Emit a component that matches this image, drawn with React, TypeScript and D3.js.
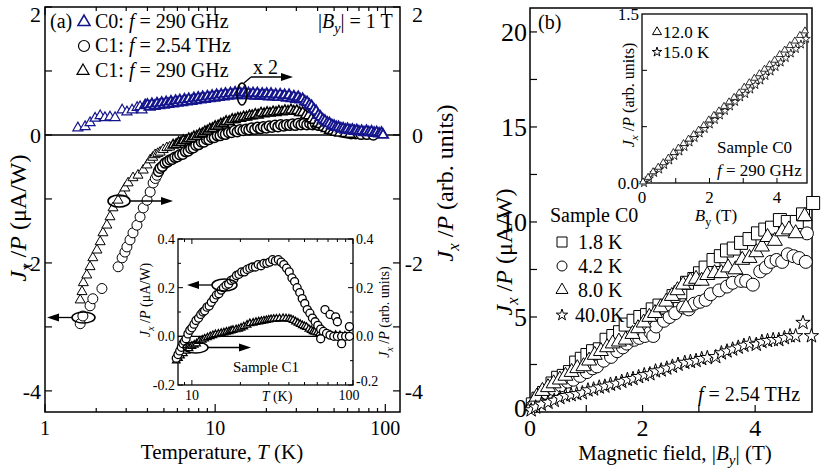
import React from "react";
import * as d3 from "d3";

const FONT = "'Liberation Serif', 'Times New Roman', Times, serif";
const BLUE = "#14148c";

// ---------- panel (a): Jx/P vs temperature ----------
// C0, f = 290 GHz (right axis, x2)
const c0At290GHz: [number, number][] = [
  [1.56, 0.11], [1.72, 0.13], [1.84, 0.19], [1.97, 0.26], [2.11, 0.3], [2.25, 0.27], [2.41, 0.28],
  [2.58, 0.27], [2.84, 0.39], [3.03, 0.36], [3.25, 0.39], [3.48, 0.43], [3.62, 0.44], [3.72, 0.39],
  [3.88, 0.46], [4.0, 0.47], [4.12, 0.44], [4.25, 0.48], [4.4, 0.45], [4.55, 0.49], [4.7, 0.46],
  [4.85, 0.5], [5.0, 0.47], [5.15, 0.51], [5.3, 0.48], [5.5, 0.52], [5.65, 0.49], [5.85, 0.53],
  [6.0, 0.5], [6.2, 0.54], [6.4, 0.51], [6.6, 0.55], [6.8, 0.52], [7.0, 0.56], [7.25, 0.53],
  [7.5, 0.57], [7.7, 0.54], [7.95, 0.58], [8.2, 0.55], [8.45, 0.59], [8.7, 0.56], [9.0, 0.6],
  [9.3, 0.57], [9.6, 0.61], [9.9, 0.58], [10.2, 0.62], [10.5, 0.59], [10.85, 0.63], [11.2, 0.6],
  [11.5, 0.64], [11.9, 0.61], [12.3, 0.65], [12.7, 0.62], [13.1, 0.66], [13.5, 0.62], [13.9, 0.66],
  [14.3, 0.63], [14.8, 0.66], [15.2, 0.62], [15.7, 0.65], [16.2, 0.62], [16.7, 0.65], [17.2, 0.61],
  [17.7, 0.65], [18.3, 0.61], [18.9, 0.64], [19.5, 0.61], [20.1, 0.64], [20.7, 0.6], [21.3, 0.64],
  [22.0, 0.6], [22.7, 0.63], [23.4, 0.59], [24.1, 0.63], [24.9, 0.59], [25.6, 0.62], [26.4, 0.58],
  [27.2, 0.62], [28.1, 0.57], [29.0, 0.6], [29.9, 0.56], [30.8, 0.59], [31.7, 0.55], [32.7, 0.56],
  [33.7, 0.52], [34.7, 0.51], [35.8, 0.47], [36.9, 0.45], [38.0, 0.4], [39.2, 0.37], [40.4, 0.31],
  [41.6, 0.28], [42.9, 0.24], [44.2, 0.22], [45.6, 0.19], [47.0, 0.18], [48.5, 0.15], [50.0, 0.14],
  [51.5, 0.12], [53.1, 0.12], [54.8, 0.1], [56.5, 0.1], [58.2, 0.08], [60.0, 0.09], [62.0, 0.07],
  [64.0, 0.08], [66.0, 0.06], [68.0, 0.07], [70.0, 0.05], [72.5, 0.06], [75.0, 0.04], [77.5, 0.06],
  [80.0, 0.04], [83.0, 0.05], [86.0, 0.03], [89.0, 0.04], [92.0, 0.02], [95.0, 0.03], [97.0, 0.0],
];
// C1, f = 2.54 THz (left axis)
const c1At254THz: [number, number][] = [
  [1.61, -2.95], [1.67, -2.83], [1.84, -2.67], [1.91, -2.56], [2.16, -2.4],
  [2.69, -2.06], [2.84, -1.92], [2.95, -1.83], [3.03, -1.75], [3.16, -1.64], [3.29, -1.53],
  [3.47, -1.41], [3.62, -1.28], [3.78, -1.14], [3.98, -1.02], [4.15, -0.89], [4.32, -0.75],
  [4.45, -0.68], [4.55, -0.63], [4.65, -0.57], [4.75, -0.52], [4.9, -0.49], [5.08, -0.44],
  [5.25, -0.42], [5.43, -0.39], [5.6, -0.38], [5.8, -0.35], [6.0, -0.34], [6.2, -0.31], [6.45, -0.3],
  [6.7, -0.26], [6.95, -0.25], [7.2, -0.21], [7.45, -0.2], [7.7, -0.16], [8.0, -0.15], [8.3, -0.11],
  [8.6, -0.11], [8.9, -0.07], [9.2, -0.07], [9.55, -0.04], [9.9, -0.04], [10.3, -0.01], [10.7, -0.01],
  [11.1, 0.02], [11.5, 0.01], [12.0, 0.04], [12.5, 0.04], [13.0, 0.07], [13.5, 0.05], [14.0, 0.08],
  [14.6, 0.07], [15.2, 0.09], [15.8, 0.08], [16.4, 0.11], [17.1, 0.09], [17.8, 0.12], [18.5, 0.1],
  [19.2, 0.13], [20.0, 0.11], [20.8, 0.14], [21.6, 0.12], [22.5, 0.15], [23.4, 0.13], [24.3, 0.16],
  [25.3, 0.14], [26.3, 0.16], [27.4, 0.15], [28.5, 0.17], [29.6, 0.15], [30.8, 0.18], [32.0, 0.16],
  [33.3, 0.18], [34.6, 0.16], [36.0, 0.18], [37.4, 0.16], [38.9, 0.17], [40.5, 0.15], [42.1, 0.17],
  [43.8, 0.14], [45.5, 0.15], [47.3, 0.12], [49.2, 0.11], [51.2, 0.08], [53.2, 0.07], [55.3, 0.05],
  [57.5, 0.04], [60.0, 0.03], [63.0, 0.02], [67.0, 0.02], [72.0, 0.01], [78.0, 0.01], [85.0, 0.0],
];
// C1, f = 290 GHz (right axis)
const c1At290GHz: [number, number][] = [
  [1.61, -2.58], [1.65, -2.45], [1.68, -2.31], [1.76, -2.19], [1.84, -2.06], [1.91, -1.92],
  [2.02, -1.8], [2.11, -1.67], [2.19, -1.53], [2.31, -1.41], [2.41, -1.28], [2.51, -1.14],
  [2.69, -1.02], [2.84, -0.91], [2.95, -0.83], [3.08, -0.75], [3.29, -0.67], [3.52, -0.63],
  [3.78, -0.55], [3.98, -0.47], [4.15, -0.39], [4.3, -0.35], [4.44, -0.31], [4.6, -0.29],
  [4.75, -0.27], [4.95, -0.23], [5.2, -0.2], [5.4, -0.19], [5.66, -0.16], [5.9, -0.15], [6.1, -0.12],
  [6.3, -0.12], [6.5, -0.09], [6.75, -0.09], [7.0, -0.06], [7.25, -0.06], [7.5, -0.03], [7.8, -0.02],
  [8.1, 0.01], [8.4, 0.02], [8.7, 0.05], [9.0, 0.06], [9.3, 0.09], [9.65, 0.1], [10.0, 0.13],
  [10.4, 0.14], [10.8, 0.17], [11.2, 0.18], [11.6, 0.21], [12.1, 0.21], [12.6, 0.24], [13.1, 0.24],
  [13.6, 0.26], [14.1, 0.26], [14.7, 0.28], [15.3, 0.28], [15.9, 0.3], [16.5, 0.3], [17.2, 0.32],
  [17.9, 0.31], [18.6, 0.34], [19.4, 0.33], [20.2, 0.35], [21.0, 0.34], [21.9, 0.36], [22.8, 0.35],
  [23.7, 0.37], [24.7, 0.36], [25.7, 0.38], [26.8, 0.37], [27.9, 0.39], [29.0, 0.37], [30.2, 0.38],
  [31.4, 0.35], [32.7, 0.35], [34.0, 0.31], [35.4, 0.3], [36.8, 0.25], [38.3, 0.23], [39.9, 0.18],
  [41.5, 0.16], [43.2, 0.12], [45.0, 0.1], [47.0, 0.07], [49.0, 0.06], [51.0, 0.04], [54.0, 0.03],
  [58.0, 0.02], [62.0, 0.01],
];
// inset (a): sample C1
const insetC1Circles: [number, number][] = [
  [8.0, -0.09], [8.2, -0.075], [8.4, -0.06], [8.6, -0.045], [8.8, -0.03], [9.0, -0.02], [9.2, -0.01],
  [9.45, 0.01], [9.7, 0.025], [10.0, 0.035], [10.3, 0.05], [10.6, 0.065], [11.0, 0.075], [11.35, 0.09],
  [11.7, 0.1], [12.0, 0.105], [12.4, 0.12], [12.8, 0.125], [13.2, 0.14], [13.7, 0.155], [14.2, 0.17],
  [14.7, 0.175], [15.2, 0.19], [15.7, 0.2], [16.3, 0.21], [16.9, 0.215], [17.5, 0.23], [18.2, 0.235],
  [18.9, 0.25], [19.6, 0.255], [20.4, 0.265], [21.2, 0.265], [22.0, 0.275], [22.9, 0.28], [23.8, 0.285],
  [24.8, 0.285], [25.8, 0.295], [26.9, 0.29], [28.0, 0.3], [29.2, 0.3], [30.4, 0.305], [31.7, 0.315],
  [33.0, 0.31], [34.4, 0.315], [35.8, 0.305], [37.2, 0.295], [38.7, 0.28], [40.2, 0.265], [41.8, 0.24],
  [43.4, 0.225], [45.0, 0.2], [46.7, 0.18], [48.4, 0.155], [50.2, 0.135], [52.0, 0.11], [54.0, 0.095],
  [56.0, 0.075], [58.2, 0.06], [60.5, 0.045], [63.0, 0.03], [65.5, 0.02], [68.5, 0.012], [72.0, 0.005],
  [76.0, 0.0], [80.0, 0.0], [85.0, 0.0], [90.0, 0.0], [95.0, 0.0],
  [63.0, -0.01], [67.0, 0.11], [72.0, 0.09], [78.0, 0.08], [80.0, 0.06], [85.0, -0.03], [95.0, 0.04],
];
const insetC1Triangles: [number, number][] = [
  [8.0, -0.1], [8.25, -0.09], [8.5, -0.08], [8.85, -0.07], [9.2, -0.06], [9.6, -0.05], [10.0, -0.04],
  [10.35, -0.035], [10.7, -0.03], [11.1, -0.02], [11.6, -0.015], [12.0, -0.01], [12.5, -0.005],
  [13.0, 0.0], [13.5, 0.004], [14.0, 0.008], [14.6, 0.01], [15.2, 0.013], [15.8, 0.015], [16.4, 0.018],
  [17.0, 0.02], [17.5, 0.023], [18.0, 0.025], [18.8, 0.028], [19.5, 0.03], [20.2, 0.035], [21.0, 0.04],
  [22.0, 0.047], [22.9, 0.053], [24.0, 0.055], [25.0, 0.058], [26.0, 0.06], [27.0, 0.062], [28.0, 0.064],
  [29.0, 0.066], [30.0, 0.068], [31.0, 0.07], [32.2, 0.071], [33.5, 0.072], [35.0, 0.073], [36.8, 0.074],
  [38.4, 0.073], [40.0, 0.072], [41.2, 0.07], [42.5, 0.066], [44.0, 0.06], [45.5, 0.055], [47.0, 0.05],
  [48.5, 0.045], [50.0, 0.041], [51.5, 0.038], [53.2, 0.03], [55.0, 0.025], [56.5, 0.02], [58.0, 0.018],
  [60.0, 0.015], [62.0, 0.012], [64.5, 0.01], [67.0, 0.008], [72.0, 0.006], [78.0, 0.005], [83.0, 0.004],
  [89.0, 0.002], [95.0, 0.0],
];

// ---------- panel (b): Jx/P vs magnetic field, sample C0, 2.54 THz ----------
const field1p8K: [number, number][] = [
  [0.05, 0.4], [0.15, 0.7], [0.25, 1.0], [0.4, 1.5], [0.5, 1.8], [0.6, 1.9], [0.71, 2.1], [0.82, 2.6],
  [0.92, 2.8], [1.02, 3.0], [1.12, 3.2], [1.24, 3.3], [1.36, 3.8], [1.48, 4.0], [1.6, 4.2], [1.7, 4.6],
  [1.84, 4.8], [1.96, 5.0], [2.08, 5.1], [2.18, 5.4], [2.3, 5.6], [2.43, 5.5], [2.55, 6.1], [2.67, 6.3],
  [2.79, 6.8], [2.92, 7.0], [3.02, 7.3], [3.12, 7.6], [3.26, 8.0], [3.39, 8.2], [3.5, 8.5], [3.62, 8.6],
  [3.75, 8.9], [3.9, 9.1], [4.05, 9.4], [4.18, 9.6], [4.3, 9.7], [4.44, 10.1], [4.58, 10.0], [4.74, 10.0],
  [4.85, 10.4], [5.03, 11.0],
];
const field4p2K: [number, number][] = [
  [0.05, 0.3], [0.15, 0.6], [0.3, 1.0], [0.43, 1.2], [0.55, 1.4], [0.67, 1.6], [0.77, 1.7], [0.89, 1.9],
  [1.01, 2.1], [1.11, 2.3], [1.19, 2.4], [1.31, 2.7], [1.44, 2.9], [1.55, 3.2], [1.65, 3.4], [1.72, 3.6],
  [1.85, 3.8], [1.94, 3.9], [2.04, 4.0], [2.14, 4.2], [2.19, 4.0], [2.24, 4.5], [2.38, 4.8], [2.48, 5.0],
  [2.58, 5.2], [2.72, 5.5], [2.82, 5.4], [2.92, 5.7], [3.02, 5.8], [3.12, 5.9], [3.21, 6.2], [3.36, 6.4],
  [3.5, 6.6], [3.6, 6.8], [3.75, 6.9], [3.84, 6.9], [3.96, 6.7], [4.09, 7.4], [4.19, 7.6], [4.28, 7.9],
  [4.38, 8.0], [4.48, 7.9], [4.58, 8.3], [4.68, 8.2], [4.78, 8.1], [4.9, 7.9], [4.92, 9.4],
];
const field8p0K: [number, number][] = [
  [0.05, 0.4], [0.12, 0.8], [0.22, 1.1], [0.32, 1.3], [0.42, 1.5], [0.53, 1.7], [0.63, 1.9], [0.74, 2.1],
  [0.84, 2.3], [0.95, 2.4], [1.05, 2.7], [1.15, 3.0], [1.26, 3.2], [1.37, 3.4], [1.47, 3.6], [1.58, 3.7],
  [1.7, 3.8], [1.82, 4.1], [1.92, 4.4], [2.02, 4.7], [2.12, 5.0], [2.22, 5.2], [2.32, 5.5], [2.42, 5.8],
  [2.52, 6.1], [2.62, 6.4], [2.72, 6.7], [2.77, 5.5], [2.85, 6.9], [2.95, 7.0], [3.05, 6.9], [3.15, 7.2],
  [3.28, 7.3], [3.4, 7.3], [3.52, 7.6], [3.65, 7.5], [3.77, 8.0], [3.9, 8.1], [4.02, 8.4], [4.12, 8.7],
  [4.22, 9.2], [4.35, 9.0], [4.48, 9.5], [4.6, 9.6], [4.72, 9.4], [4.88, 10.3],
];
const field40K: [number, number][] = [
  [0.02, 0.1], [0.1, 0.25], [0.2, 0.4], [0.32, 0.5], [0.43, 0.6], [0.53, 0.75], [0.63, 0.85], [0.73, 0.9],
  [0.83, 0.95], [0.93, 1.0], [1.03, 1.15], [1.13, 1.2], [1.23, 1.3], [1.33, 1.35], [1.43, 1.45], [1.53, 1.5],
  [1.63, 1.6], [1.73, 1.7], [1.83, 1.75], [1.93, 1.85], [2.03, 1.95], [2.13, 2.0], [2.23, 2.15], [2.33, 2.2],
  [2.43, 2.3], [2.53, 2.4], [2.63, 2.5], [2.75, 2.6], [2.85, 2.65], [2.95, 2.7], [3.05, 2.8], [3.15, 2.85],
  [3.3, 2.9], [3.4, 3.1], [3.5, 3.2], [3.6, 3.3], [3.7, 3.4], [3.8, 3.5], [3.9, 3.6], [4.02, 3.55],
  [4.12, 3.7], [4.22, 3.75], [4.32, 3.8], [4.42, 3.8], [4.52, 3.9], [4.62, 4.0], [4.72, 4.0], [4.85, 4.7],
  [5.0, 4.0],
];
// inset (b): sample C0, 290 GHz
const inset12K: [number, number][] = [
  [0.03, 0.01], [0.18, 0.05], [0.33, 0.1], [0.48, 0.14], [0.63, 0.18], [0.78, 0.22], [0.93, 0.27],
  [1.08, 0.31], [1.23, 0.35], [1.38, 0.39], [1.53, 0.43], [1.68, 0.47], [1.83, 0.51], [1.98, 0.56],
  [2.13, 0.6], [2.28, 0.64], [2.43, 0.68], [2.58, 0.72], [2.73, 0.76], [2.88, 0.8], [3.03, 0.85],
  [3.18, 0.89], [3.33, 0.93], [3.48, 0.97], [3.63, 1.01], [3.78, 1.05], [3.93, 1.09], [4.08, 1.14],
  [4.23, 1.18], [4.38, 1.22], [4.53, 1.26], [4.68, 1.31], [4.83, 1.35],
];
const inset15K: [number, number][] = [
  [0.06, 0.0], [0.21, 0.04], [0.36, 0.09], [0.51, 0.12], [0.66, 0.16], [0.81, 0.2], [0.96, 0.24],
  [1.11, 0.28], [1.26, 0.32], [1.41, 0.36], [1.56, 0.4], [1.71, 0.44], [1.86, 0.48], [2.01, 0.52],
  [2.16, 0.56], [2.31, 0.6], [2.46, 0.64], [2.61, 0.68], [2.76, 0.72], [2.91, 0.76], [3.06, 0.79],
  [3.21, 0.83], [3.36, 0.87], [3.51, 0.91], [3.66, 0.95], [3.81, 0.99], [3.96, 1.03], [4.11, 1.07],
  [4.26, 1.11], [4.41, 1.15], [4.56, 1.19], [4.71, 1.23], [4.86, 1.28],
];

// tick labels
const aYLabels = [2, 0, -2, -4];
const aXLabels = [1, 10, 100];
const aInsetYLabels = ["0.4", "0.2", "0.0", "-0.2"];
const bYLabels = [0, 5, 10, 15, 20];
const bXLabels = [0, 2, 4];
const bInsetXLabels = [0, 2, 4];
const bInsetYLabels = ["0.0", "1.5"];

const sym = (type: d3.SymbolType, size: number) => d3.symbol().type(type).size(size)() || "";
const triArea = (s: number) => (Math.sqrt(3) / 4) * s * s;
const starSize = (r: number) => (r * r) / 0.8908130915292852;

type XY = [number, number];
function Marks({ data, sx, sy, d, stroke = "#000", sw = 1 }: any) {
  return (
    <g>
      {(data as XY[]).map(([a, b], i) => (
        <path key={i} d={d} transform={`translate(${sx(a)},${sy(b)})`} fill="#fff" stroke={stroke}
          strokeWidth={typeof sw === "function" ? sw(a) : sw} />
      ))}
    </g>
  );
}

function Arrow({ x1, y, x2 }: { x1: number; y: number; x2: number }) {
  const dir = x2 > x1 ? 1 : -1;
  return (
    <g>
      <line x1={x1} y1={y} x2={x2 - dir * 6} y2={y} stroke="#000" strokeWidth={1.3} />
      <polygon points={`${x2},${y} ${x2 - dir * 12},${y - 4} ${x2 - dir * 12},${y + 4}`} fill="#000" />
    </g>
  );
}

function JxP({ fs, unit }: { fs: number; unit: string }) {
  return (
    <>
      <tspan fontStyle="italic">J</tspan>
      <tspan fontStyle="italic" fontSize={fs * 0.7} dy={fs * 0.25}>x</tspan>
      <tspan dy={-fs * 0.25}> /</tspan>
      <tspan fontStyle="italic">P</tspan>
      <tspan>{` (${unit})`}</tspan>
    </>
  );
}

const fmt = (v: number) => (v < 0 ? `-${-v}` : `${v}`);

export default function App() {
  // panel (a)
  const ax = d3.scaleLog().domain([1, 122]).range([45, 400]);
  const ay = d3.scaleLinear().domain([-4.33, 2]).range([412, 7]);
  const ix = d3.scaleLog().domain([8.2, 100]).range([178, 353]);
  const iy = d3.scaleLinear().domain([-0.2, 0.4]).range([385, 239]);
  // panel (b)
  const bx = d3.scaleLinear().domain([0, 5.01]).range([530, 812]);
  const by = d3.scaleLinear().domain([0, 21.26]).range([412, 8]);
  const jx = d3.scaleLinear().domain([0, 4.89]).range([642, 807]);
  const jy = d3.scaleLinear().domain([0, 1.5]).range([183, 14]);

  const triA = sym(d3.symbolTriangle, triArea(10));
  const circA = sym(d3.symbolCircle, Math.PI * 25);
  const triI = sym(d3.symbolTriangle, triArea(7.5));
  const circI = sym(d3.symbolCircle, Math.PI * 16);
  const sqB = sym(d3.symbolSquare, 13 * 13);
  const circB = sym(d3.symbolCircle, Math.PI * 6.5 * 6.5);
  const triB = sym(d3.symbolTriangle, triArea(15));
  const starB = sym(d3.symbolStar, starSize(7.5));
  const triJ = sym(d3.symbolTriangle, triArea(7));
  const starJ = sym(d3.symbolStar, starSize(4.5));

  const aYTicks = d3.range(-4, 2.5, 1);
  const aInYTicks = d3.range(-0.2, 0.45, 0.1);
  const bYTicks = d3.range(0, 21, 2.5);

  return (
    <svg width={822} height={470} style={{ position: "absolute", left: 0, top: 0, background: "#fff", fontFamily: FONT }}>
      {/* ================= panel (a) ================= */}
      <rect x={45} y={7} width={355} height={405} fill="none" stroke="#000" strokeWidth={1.5} />
      <line x1={45} x2={400} y1={ay(0)} y2={ay(0)} stroke="#000" strokeWidth={1.5} />
      {aYTicks.map((v) => (
        <g key={v}>
          <line x1={45} x2={52} y1={ay(v)} y2={ay(v)} stroke="#000" strokeWidth={1.2} />
          <line x1={400} x2={393} y1={ay(v)} y2={ay(v)} stroke="#000" strokeWidth={1.2} />
        </g>
      ))}
      {ax.ticks().map((t) => {
        const major = aXLabels.includes(t);
        const len = major ? 8 : 4;
        return (
          <g key={t}>
            <line x1={ax(t)} x2={ax(t)} y1={412} y2={412 - len} stroke="#000" strokeWidth={1.2} />
            <line x1={ax(t)} x2={ax(t)} y1={7} y2={7 + len} stroke="#000" strokeWidth={1.2} />
          </g>
        );
      })}
      {aYLabels.map((v) => (
        <g key={v} fontSize={22}>
          <text x={41} y={Math.max(ay(v), 14)} dy="0.35em" textAnchor="end">{fmt(v)}</text>
          <text x={423} y={Math.max(ay(v), 14)} dy="0.35em" textAnchor="end">{fmt(v)}</text>
        </g>
      ))}
      {aXLabels.map((v) => (
        <text key={v} x={ax(v)} y={435} fontSize={20} textAnchor="middle">{v}</text>
      ))}
      <text x={222} y={459} fontSize={21} textAnchor="middle">
        Temperature, <tspan fontStyle="italic">T</tspan> (K)
      </text>
      <text transform="translate(26,218) rotate(-90)" fontSize={24} textAnchor="middle">
        <JxP fs={24} unit="μA/W" />
      </text>
      <text transform="translate(453,183) rotate(-90)" fontSize={24} textAnchor="middle">
        <JxP fs={24} unit="arb. units" />
      </text>

      {/* data (a) */}
      <Marks data={c1At254THz} sx={ax} sy={ay} d={circA} sw={(t: number) => (t < 4.6 ? 1 : 1.5)} />
      <Marks data={c1At290GHz} sx={ax} sy={ay} d={triA} sw={(t: number) => (t < 5.5 ? 1 : 1.5)} />
      <Marks data={c0At290GHz} sx={ax} sy={ay} d={triA} stroke={BLUE} sw={(t: number) => (t < 3.8 ? 1.2 : 1.9)} />

      {/* legend (a) */}
      <g fontSize={20}>
        <text x={50} y={28}>(a)</text>
        <path d={sym(d3.symbolTriangle, triArea(12))} transform="translate(84,22)" fill="#fff" stroke={BLUE} strokeWidth={1.6} />
        <text x={95} y={28}>C0: <tspan fontStyle="italic">f</tspan> = 290 GHz</text>
        <circle cx={84} cy={46} r={5.5} fill="#fff" stroke="#000" strokeWidth={1.2} />
        <text x={95} y={52}>C1: <tspan fontStyle="italic">f</tspan> = 2.54 THz</text>
        <path d={sym(d3.symbolTriangle, triArea(12))} transform="translate(83,71)" fill="#fff" stroke="#000" strokeWidth={1.2} />
        <text x={95} y={77}>C1: <tspan fontStyle="italic">f</tspan> = 290 GHz</text>
        <text x={318} y={28}>
          |<tspan fontStyle="italic">B</tspan><tspan fontStyle="italic" fontSize={14} dy={5}>y</tspan><tspan dy={-5}>| = 1 T</tspan>
        </text>
        <text x={253} y={74}>x 2</text>
      </g>
      {/* annotations (a) */}
      <ellipse cx={242} cy={94} rx={5} ry={11} fill="none" stroke="#000" strokeWidth={1.6} />
      <line x1={244} y1={83} x2={251} y2={77} stroke="#000" strokeWidth={1.3} />
      <Arrow x1={251} y={77} x2={293} />
      <ellipse cx={119} cy={201} rx={11} ry={6} fill="none" stroke="#000" strokeWidth={1.6} />
      <Arrow x1={130} y={201} x2={173} />
      <ellipse cx={83.5} cy={317.5} rx={11.5} ry={5.5} fill="none" stroke="#000" strokeWidth={1.6} />
      <Arrow x1={72} y={317.5} x2={47} />

      {/* ================= inset (a) ================= */}
      <rect x={178} y={239} width={175} height={146} fill="#fff" stroke="#000" strokeWidth={1.3} />
      <line x1={178} x2={353} y1={iy(0)} y2={iy(0)} stroke="#000" strokeWidth={1.2} />
      {aInYTicks.map((v, i) => {
        const len = i % 2 === 0 ? 5 : 3;
        return (
          <g key={i}>
            <line x1={178} x2={178 + len} y1={iy(v)} y2={iy(v)} stroke="#000" />
            <line x1={353} x2={353 - len} y1={iy(v)} y2={iy(v)} stroke="#000" />
          </g>
        );
      })}
      {ix.ticks().map((t) => {
        const len = t === 10 || t === 100 ? 5 : 3;
        return (
          <g key={t}>
            <line x1={ix(t)} x2={ix(t)} y1={385} y2={385 - len} stroke="#000" />
            <line x1={ix(t)} x2={ix(t)} y1={239} y2={239 + len} stroke="#000" />
          </g>
        );
      })}
      <Marks data={insetC1Triangles} sx={ix} sy={iy} d={triI} sw={1.3} />
      <Marks data={insetC1Circles} sx={ix} sy={iy} d={circI} sw={1.3} />
      <g fontSize={14}>
        {aInsetYLabels.map((v) => (
          <g key={v}>
            <text x={175} y={iy(+v)} dy="0.35em" textAnchor="end">{v}</text>
            <text x={356} y={Math.min(iy(+v), 381)} dy="0.35em">{v}</text>
          </g>
        ))}
        <text x={ix(10)} y={400} textAnchor="middle">10</text>
        <text x={ix(100) - 4} y={400} textAnchor="middle">100</text>
        <text x={277} y={401} textAnchor="middle"><tspan fontStyle="italic">T</tspan> (K)</text>
        <text x={266} y={372} fontSize={15} textAnchor="middle">Sample C1</text>
        <text transform="translate(150,300) rotate(-90)" textAnchor="middle"><JxP fs={14} unit="μA/W" /></text>
        <text transform="translate(389,312) rotate(-90)" textAnchor="middle"><JxP fs={14} unit="arb. units" /></text>
      </g>
      <ellipse cx={224.5} cy={285} rx={12.5} ry={6} fill="none" stroke="#000" strokeWidth={1.5} />
      <Arrow x1={212} y={285} x2={187} />
      <ellipse cx={195.5} cy={347.5} rx={12.5} ry={5.5} fill="none" stroke="#000" strokeWidth={1.5} />
      <Arrow x1={208} y={347.5} x2={251} />

      {/* ================= panel (b) ================= */}
      <rect x={530} y={8} width={282} height={404} fill="none" stroke="#000" strokeWidth={1.5} />
      {bYTicks.map((v) => (
        <line key={v} x1={530} x2={537} y1={by(v)} y2={by(v)} stroke="#000" strokeWidth={1.2} />
      ))}
      {d3.range(1, 5).map((v) => (
        <line key={v} x1={bx(v)} x2={bx(v)} y1={412} y2={405} stroke="#000" strokeWidth={1.2} />
      ))}
      {bYLabels.map((v) => (
        <text key={v} x={527} y={Math.min(by(v), 408)} dy="0.35em" fontSize={26} textAnchor="end">{v}</text>
      ))}
      {bXLabels.map((v) => (
        <text key={v} x={bx(v)} y={436} fontSize={24} textAnchor="middle">{v}</text>
      ))}
      <text x={675} y={460} fontSize={21} textAnchor="middle">
        Magnetic field, |<tspan fontStyle="italic">B</tspan>
        <tspan fontStyle="italic" fontSize={15} dy={5}>y</tspan>
        <tspan dy={-5}>| (T)</tspan>
      </text>
      <text transform="translate(512,252) rotate(-90)" fontSize={24} textAnchor="middle">
        <JxP fs={24} unit="μA/W" />
      </text>
      <text x={538} y={29} fontSize={20}>(b)</text>

      <Marks data={field1p8K} sx={bx} sy={by} d={sqB} />
      <Marks data={field4p2K} sx={bx} sy={by} d={circB} />
      <Marks data={field8p0K} sx={bx} sy={by} d={triB} />
      <Marks data={field40K} sx={bx} sy={by} d={starB} />

      <g fontSize={20}>
        <text x={550} y={222}>Sample C0</text>
        <path d={sym(d3.symbolSquare, 100)} transform="translate(562,242)" fill="#fff" stroke="#000" />
        <text x={578} y={249}>1.8 K</text>
        <circle cx={562} cy={266} r={5} fill="#fff" stroke="#000" />
        <text x={578} y={273}>4.2 K</text>
        <path d={sym(d3.symbolTriangle, triArea(12))} transform="translate(562,290)" fill="#fff" stroke="#000" />
        <text x={578} y={297}>8.0 K</text>
        <path d={sym(d3.symbolStar, starSize(6))} transform="translate(562,315)" fill="#fff" stroke="#000" />
        <text x={575} y={322}>40.0K</text>
        <text x={698} y={401}><tspan fontStyle="italic">f</tspan> = 2.54 THz</text>
      </g>

      {/* ================= inset (b) ================= */}
      <rect x={642} y={14} width={165} height={169} fill="#fff" stroke="#000" strokeWidth={1.3} />
      {d3.range(0.5, 1.5, 0.5).map((v) => (
        <line key={v} x1={642} x2={647} y1={jy(v)} y2={jy(v)} stroke="#000" />
      ))}
      {d3.range(1, 5).map((v) => (
        <line key={v} x1={jx(v)} x2={jx(v)} y1={183} y2={178} stroke="#000" />
      ))}
      <Marks data={inset15K} sx={jx} sy={jy} d={starJ} sw={0.8} />
      <Marks data={inset12K} sx={jx} sy={jy} d={triJ} sw={0.8} />
      <g fontSize={17}>
        {bInsetXLabels.map((v) => (
          <text key={v} x={jx(v)} y={203} textAnchor="middle">{v}</text>
        ))}
        {bInsetYLabels.map((v) => (
          <text key={v} x={639} y={jy(+v)} dy="0.35em" textAnchor="end">{v}</text>
        ))}
        <text x={716} y={221} textAnchor="middle">
          <tspan fontStyle="italic">B</tspan>
          <tspan fontSize={12} dy={5}>y</tspan>
          <tspan dy={-5}> (T)</tspan>
        </text>
        <path d={sym(d3.symbolTriangle, triArea(9))} transform="translate(657,32)" fill="#fff" stroke="#000" />
        <text x={663} y={38}>12.0 K</text>
        <path d={sym(d3.symbolStar, starSize(5))} transform="translate(657,52)" fill="#fff" stroke="#000" />
        <text x={663} y={58}>15.0 K</text>
        <text x={717} y={153}>Sample C0</text>
        <text x={717} y={176}><tspan fontStyle="italic">f</tspan> = 290 GHz</text>
        <text transform="translate(634,95) rotate(-90)" fontSize={16} textAnchor="middle">
          <JxP fs={16} unit="arb. units" />
        </text>
      </g>
    </svg>
  );
}
